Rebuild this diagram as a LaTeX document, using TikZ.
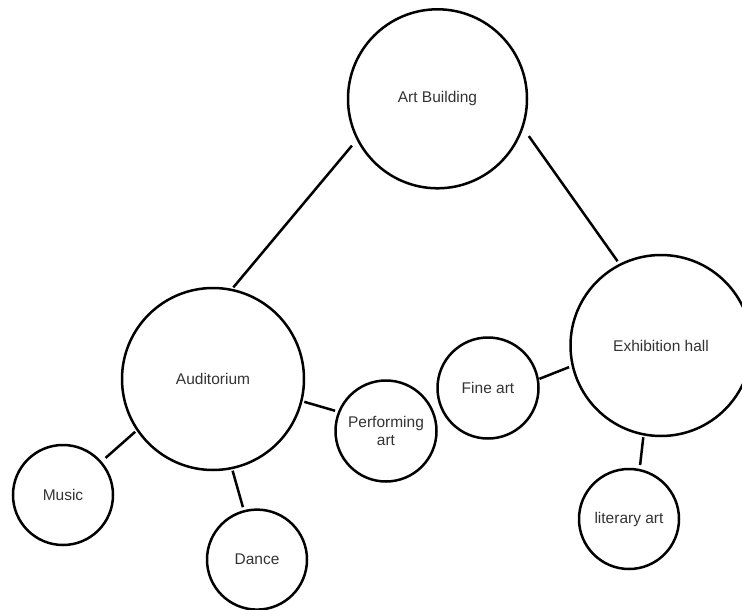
\documentclass[tikz,border=0pt]{standalone}
\usepackage{fontspec}
\setmainfont{Liberation Sans}
\begin{document}
\begin{tikzpicture}[x=1pt,y=-1pt,
  bub/.style={circle,draw,line width=2.5pt,inner sep=0pt,text=black!80,
    font=\fontsize{15.5}{18}\selectfont,align=center},
  conn/.style={line width=2.5pt}]
\useasboundingbox (0,0) rectangle (742,610);
\node[bub,minimum size=179pt] (art)   at (437.5,98.8) {Art Building};
\node[bub,minimum size=182pt] (aud)   at (213,379)    {Auditorium};
\node[bub,minimum size=181pt] (exh)   at (661,345.5)  {Exhibition hall};
\node[bub,minimum size=101pt] (fine)  at (488,388)    {Fine art};
\node[bub,minimum size=101pt] (perf)  at (386,431)    {Performing\\art};
\node[bub,minimum size=100pt] (music) at (63,495)     {Music};
\node[bub,minimum size=100pt] (dance) at (257,559.6)  {Dance};
\node[bub,minimum size=100pt] (lit)   at (629,519)    {literary art};
\draw[conn,shorten <=7.3pt,shorten >=1.8pt] (art.207) -- (aud.78.5);
\draw[conn,shorten <=9.5pt,shorten >=3.1pt] (art.341.9) -- (exh.117.9);
\draw[conn,shorten <=1.8pt,shorten >=5.2pt] (aud.214.4) -- (music.41.9);
\draw[conn,shorten <=1.5pt,shorten >=3pt] (aud.282.6) -- (dance.105.3);
\draw[conn,shorten <=1.8pt,shorten >=3.1pt] (aud.346.4) -- (perf.158.6);
\draw[conn,shorten <=0.5pt,shorten >=2.7pt] (fine.10.7) -- (exh.193.6);
\draw[conn,shorten <=1.7pt,shorten >=3.9pt] (exh.259.5) -- (lit.78.5);
\end{tikzpicture}
\end{document}
